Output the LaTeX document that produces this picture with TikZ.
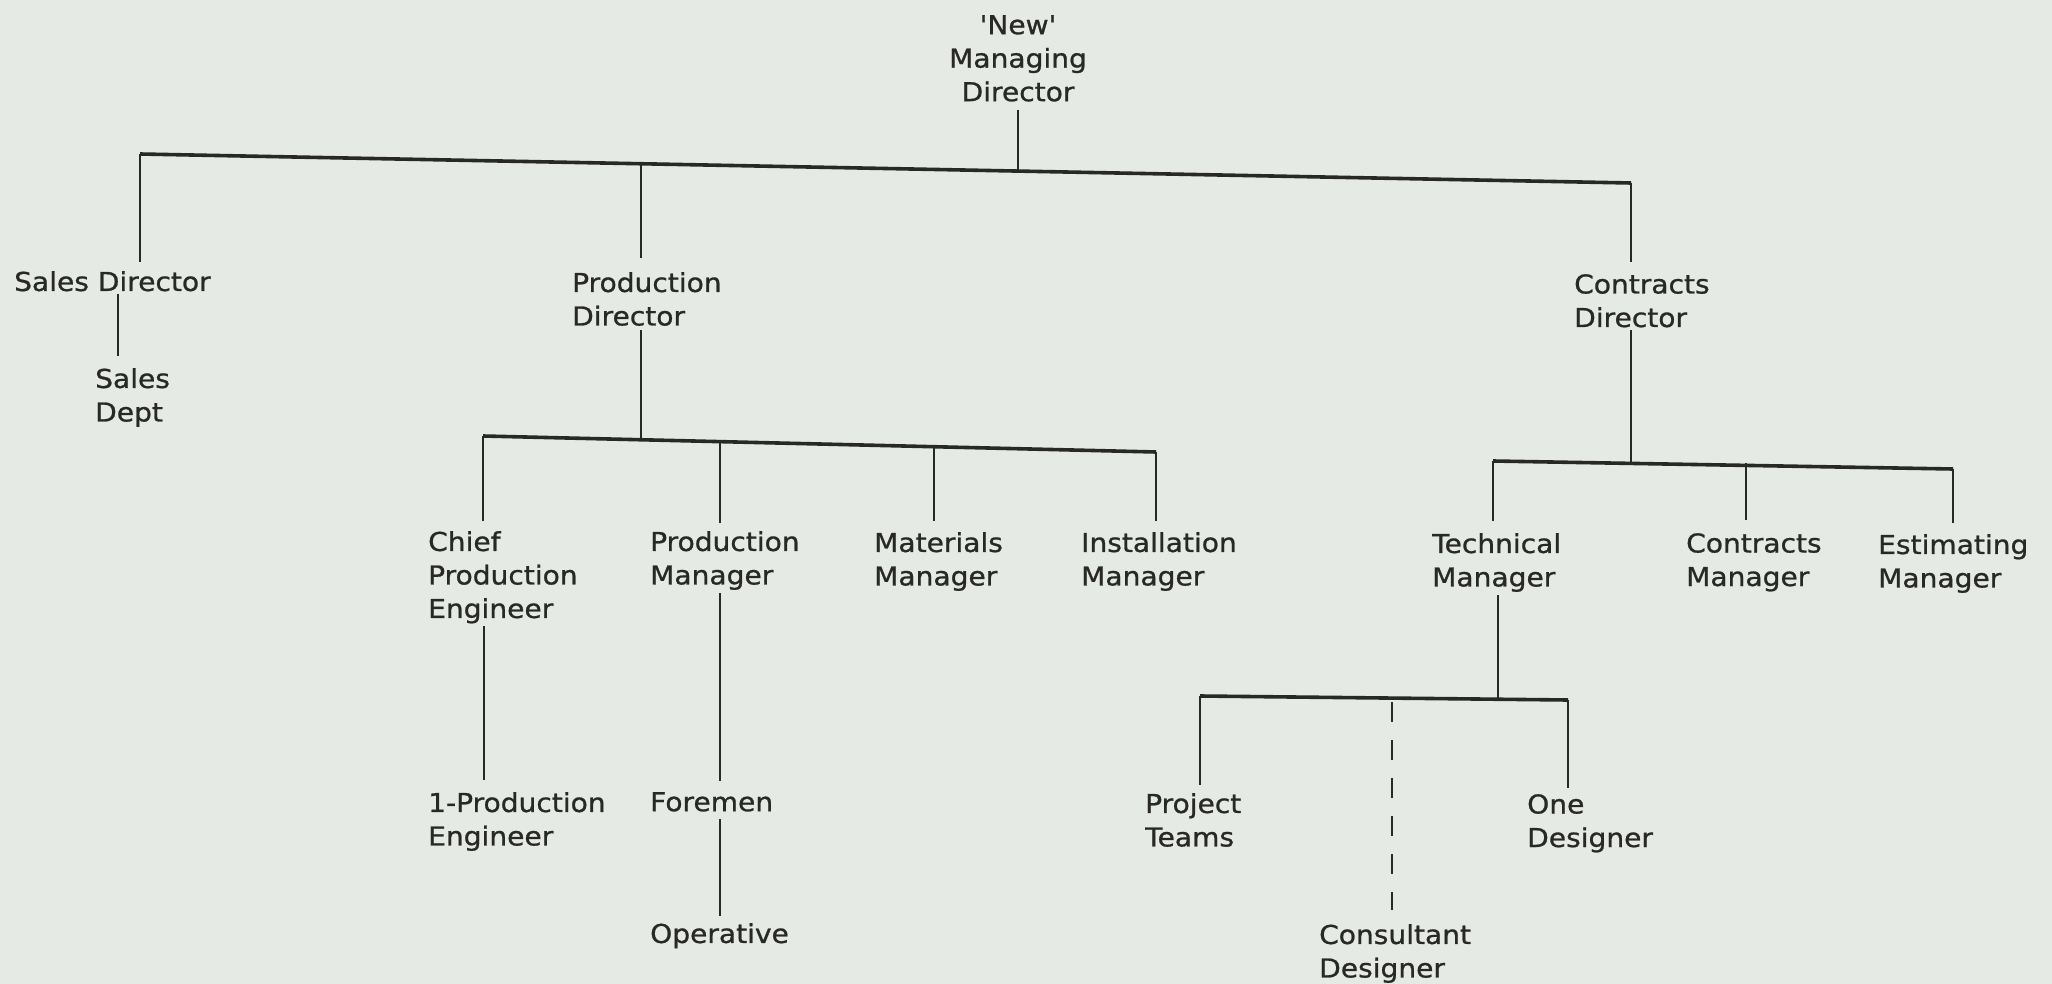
\documentclass[tikz,border=0pt]{standalone}
\usepackage{fontspec}
\setmainfont{DejaVu Sans}[FakeStretch=1.08,FakeBold=0.9]
% same face without TeX ligature mapping, so ' stays a straight quote
\newfontfamily\plainquote{DejaVu Sans}[FakeStretch=1.08,FakeBold=0.9]
\definecolor{paper}{RGB}{229,234,228}
\definecolor{ink}{RGB}{40,40,38}
\begin{document}
\begin{tikzpicture}[x=1pt,y=-1pt,
  lbl/.style={anchor=north west,inner sep=0pt,align=left,text=ink,
    font=\fontsize{26}{33.5}\selectfont},
  bar/.style={draw=ink,line width=3.6pt},
  stem/.style={draw=ink,line width=2.8pt},
  optional/.style={draw=ink,line width=2.8pt,dash pattern=on 20pt off 18pt}]
\useasboundingbox (0,0) rectangle (2052,984);
\fill[paper] (0,0) rectangle (2052,984);

% ---- labels ----
\node[lbl,anchor=north,align=center] (md) at (1018,15) {{\plainquote 'New'}\\Managing\\Director};
\node[lbl] (sd)    at (14,271)   {Sales Director};
\node[lbl] (sdept) at (95,368)   {Sales\\Dept};
\node[lbl] (pd)    at (572,272)  {Production\\Director};
\node[lbl] (cd)    at (1574,274) {Contracts\\Director};
\node[lbl] (cpe)   at (428,531)  {Chief\\Production\\Engineer};
\node[lbl] (pm)    at (650,531)  {Production\\Manager};
\node[lbl] (mm)    at (874,532)  {Materials\\Manager};
\node[lbl] (im)    at (1081,532) {Installation\\Manager};
\node[lbl] (tm)    at (1432,533) {Technical\\Manager};
\node[lbl] (cm)    at (1686,533) {Contracts\\Manager};
\node[lbl] (em)    at (1878,534) {Estimating\\Manager};
\node[lbl] (ppe)   at (428,792)  {1-Production\\Engineer};
\node[lbl] (fm)    at (650,792)  {Foremen};
\node[lbl] (op)    at (650,923)  {Operative};
\node[lbl] (pt)    at (1145,793) {Project\\Teams};
\node[lbl] (od)    at (1527,794) {One\\Designer};
\node[lbl] (cons)  at (1319,924) {Consultant\\Designer};

% ---- junction points ----
% top level
\coordinate (mdA) at (1018,110);
\coordinate (mdB) at (1018,170);
\coordinate (topL) at (140,154);
\coordinate (topR) at (1631,183);
\coordinate (sdA) at (140,262);
\coordinate (pdA) at (641,162);
\coordinate (pdB) at (641,258);
\coordinate (cdA) at (1631,262);
% sales
\coordinate (sdB) at (118,294);
\coordinate (sdC) at (118,356);
% production branch
\coordinate (pdC) at (641,330);
\coordinate (pdD) at (641,440);
\coordinate (prL) at (483,436);
\coordinate (prR) at (1156,452);
\coordinate (cpeA) at (483,521);
\coordinate (pmA) at (720,440);
\coordinate (pmB) at (720,523);
\coordinate (mmA) at (934,445);
\coordinate (mmB) at (934,521);
\coordinate (imA) at (1156,521);
\coordinate (cpeB) at (484,626);
\coordinate (cpeC) at (484,780);
\coordinate (pmC) at (720,593);
\coordinate (pmD) at (720,781);
\coordinate (fmA) at (720,819);
\coordinate (fmB) at (720,916);
% contracts branch
\coordinate (cdB) at (1631,330);
\coordinate (cdC) at (1631,465);
\coordinate (crL) at (1493,461);
\coordinate (crR) at (1953,469);
\coordinate (tmA) at (1493,521);
\coordinate (cmA) at (1746,463);
\coordinate (cmB) at (1746,520);
\coordinate (emA) at (1953,523);
% technical branch
\coordinate (tmB) at (1498,595);
\coordinate (tmC) at (1498,699);
\coordinate (teL) at (1200,696);
\coordinate (teR) at (1568,700);
\coordinate (ptA) at (1200,785);
\coordinate (consA) at (1392,702);
\coordinate (consB) at (1392,910);
\coordinate (odA) at (1568,788);

% ---- connectors ----
\draw[bar] (topL) -- (topR);
\draw[stem] (mdA) -- (mdB);
\draw[stem] (sdA) -- (topL);
\draw[stem] (topR) -- (cdA);
\draw[stem] (pdA) -- (pdB);
\draw[stem] (sdB) -- (sdC);

\draw[bar] (prL) -- (prR);
\draw[stem] (pdC) -- (pdD);
\draw[stem] (prL) -- (cpeA);
\draw[stem] (pmA) -- (pmB);
\draw[stem] (mmA) -- (mmB);
\draw[stem] (prR) -- (imA);
\draw[stem] (cpeB) -- (cpeC);
\draw[stem] (pmC) -- (pmD);
\draw[stem] (fmA) -- (fmB);

\draw[bar] (crL) -- (crR);
\draw[stem] (cdB) -- (cdC);
\draw[stem] (crL) -- (tmA);
\draw[stem] (cmA) -- (cmB);
\draw[stem] (crR) -- (emA);

\draw[bar] (teL) -- (teR);
\draw[stem] (tmB) -- (tmC);
\draw[stem] (teL) -- (ptA);
\draw[stem] (teR) -- (odA);
\draw[optional] (consA) -- (consB);
\end{tikzpicture}
\end{document}
